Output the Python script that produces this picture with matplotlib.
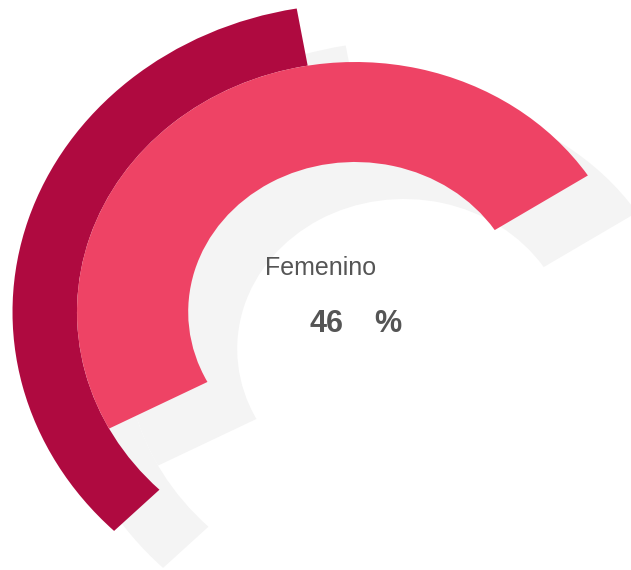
import matplotlib.pyplot as plt
from matplotlib.patches import Wedge
from matplotlib.transforms import Affine2D

# arcs: start / end angle in degrees (counter-clockwise from 3 o'clock)
arc_names = ["exterior", "Femenino"]
arc_start = [99.8, 33.1]
arc_end = [225.3, 207.8]

label = "Femenino"
value = "46"

colors = ["#af0a40", "#ee4365"]
shadow = "#f4f4f4"
rings = [(250, 308), (150, 250)]  # inner / outer radius of each arc

fig = plt.figure(figsize=(6.31, 5.70), dpi=100)
ax = fig.add_axes([0, 0, 1, 1])
ax.set_xlim(0, 631)
ax.set_ylim(0, 570)
ax.axis("off")

cx, cy = 355, 258
sx = 1.112
off_x, off_y = 49, -37

# grey shadows first
for i in range(len(arc_names)):
    r_in, r_out = rings[i]
    tr = Affine2D().scale(sx, 1).translate(cx + off_x, cy + off_y) + ax.transData
    ax.add_patch(Wedge((0, 0), r_out, arc_start[i], arc_end[i], width=r_out - r_in,
                       facecolor=shadow, edgecolor="none", transform=tr))

for i in range(len(arc_names)):
    r_in, r_out = rings[i]
    tr = Affine2D().scale(sx, 1).translate(cx, cy) + ax.transData
    ax.add_patch(Wedge((0, 0), r_out, arc_start[i], arc_end[i], width=r_out - r_in,
                       facecolor=colors[i], edgecolor="none", transform=tr))

ax.text(321, 295, label, ha="center", va="baseline", fontsize=18,
        family="Liberation Sans", color="#555555")
ax.text(327, 238, value, ha="center", va="baseline", fontsize=22, fontweight="bold",
        family="Liberation Sans", color="#555555")
ax.text(388, 238, "%", ha="center", va="baseline", fontsize=22, fontweight="bold",
        family="Liberation Sans", color="#555555")

plt.savefig("out.png", dpi=100)
